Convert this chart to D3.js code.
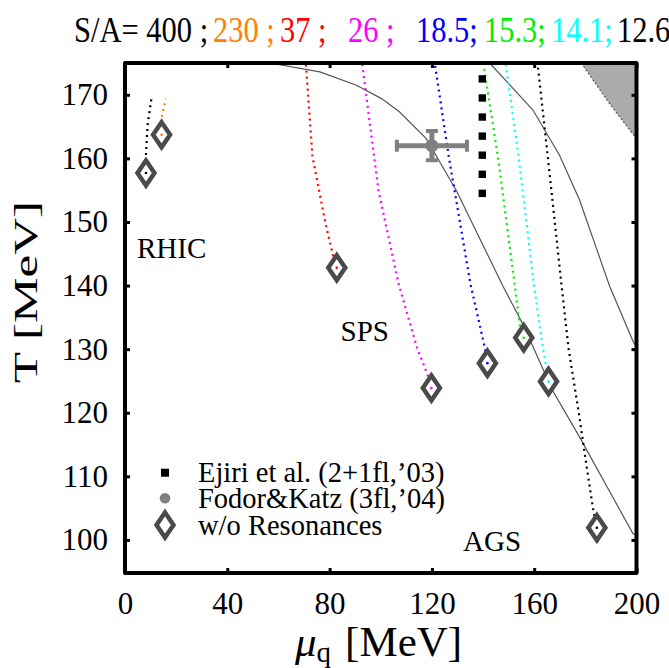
<!DOCTYPE html>
<html><head><meta charset="utf-8">
<script src="https://cdn.jsdelivr.net/npm/d3@7"></script>
<style>
body{margin:0;background:#fff}
text{font-family:"Liberation Serif","Times New Roman",Times,serif;fill:#000}
</style>
</head><body>
<svg id="chart" width="669" height="668"></svg>
<script>
// ---- data -------------------------------------------------------------
const muTicks = [0, 40, 80, 120, 160, 200];
const tTicks = [100, 110, 120, 130, 140, 150, 160, 170];

// entropy per baryon of each isentropic trajectory
const entropyLabels = ["400", "230", "37", "26", "18.5", "15.3", "14.1", "12.6"];
const seriesColors = ["#000000", "#ff8000", "#ff0000", "#ff00ff", "#0000ff", "#00ee00", "#00ffff", "#000000"];

// isentropic trajectories [mu_q, T] (MeV), one per S/A value
const traj400  = [[8.2,157.7],[8.2,160.8],[8.9,165.5],[10.4,169.6]];
const traj230  = [[14.3,163.7],[14.4,166.5],[15.9,169.4]];
const traj37   = [[82.8,142.8],[81.4,144.6],[78.4,149.8],[73.3,160.3],[70.7,175]];
const traj26   = [[119.8,123.9],[118.2,126.1],[114.2,130.2],[106.9,140.4],[99.1,155],[92.7,175]];
const traj18_5 = [[141.7,127.8],[140.7,130.2],[135,140.4],[126.6,160.3],[121.1,175]];
const traj15_3 = [[155.9,131.8],[154.3,133.9],[152.3,140.4],[145.8,160.3],[140.1,175]];
const traj14_1 = [[165.6,124.9],[165.4,125.6],[163.4,130.2],[159.8,140.4],[153.9,160.3],[148.8,175]];
const traj12_6 = [[184.5,101.9],[183.3,104.2],[181.3,109.4],[177.5,119.8],[173.4,130.2],[170.6,140.4],[165.3,160.3],[161.3,175]];
const trajectories = [traj400, traj230, traj37, traj26, traj18_5, traj15_3, traj14_1, traj12_6];

// freeze-out points without resonances [mu_q, T]
const endpointsNoRes = [[8.2,157.7],[14.3,163.7],[82.8,142.8],[119.8,123.9],[141.7,127.8],[155.9,131.8],[165.6,124.9],[184.5,101.9]];

// phase boundaries [mu_q, T]
const boundaryA = [[56.6,175],[76.2,173.6],[90.5,171.5],[100.3,169.4],[107.4,167.3],[117.8,163.1],[129.6,154.9],[147.8,139.9],[155.6,133.9],[167.2,123.5],[177.7,116.2],[198.6,101.0],[200,100.7]];
const boundaryB = [[142.6,175],[159.5,167.6],[169.9,160.5],[177.7,153.5],[189.5,139.9],[198.6,131.3],[200,130.3]];

// excluded (shaded) region, upper right
const excludedEdge = [[178.4,175],[189.5,168.6],[200,163.1]];
const excludedCorner = [[200,175]];

// lattice results
const ejiriMu = [139.7, 139.7, 139.7, 139.7, 139.7, 139.7, 139.7];
const ejiriT  = [172.5, 169.5, 166.5, 163.5, 160.5, 157.5, 154.5];
const fodorKatzMu = [120], fodorKatzT = [162], fodorKatzErrMu = [13.7], fodorKatzErrT = [2.3];

const legendLabels = ["Ejiri et al. (2+1fl,\u201903)", "Fodor&Katz (3fl,\u201904)", "w/o Resonances"];
const regionLabels = [{name:"RHIC", mu:4.7, T:144.3}, {name:"SPS", mu:84.3, T:131.3}, {name:"AGS", mu:132.2, T:98.2}];

// ---- layout -----------------------------------------------------------
const svg = d3.select("#chart");
const L = 125, R = 636.5, T0 = 63, B = 573;
const x = d3.scaleLinear().domain([0, 200]).range([L, R]);
const y = d3.scaleLinear().domain([94.8, 175]).range([B, T0]);

svg.append("defs").append("clipPath").attr("id", "plotclip")
  .append("rect").attr("x", L).attr("y", T0).attr("width", R - L).attr("height", B - T0);
const plot = svg.append("g").attr("clip-path", "url(#plotclip)");

// shaded region
plot.append("path")
  .attr("d", d3.line().x(d => x(d[0])).y(d => y(d[1]))(excludedEdge.concat(excludedCorner)) + "Z")
  .attr("fill", "#ababab");
plot.append("path")
  .attr("d", d3.line().x(d => x(d[0])).y(d => y(d[1]))(excludedEdge))
  .attr("fill", "none").attr("stroke", "#555").attr("stroke-width", 1.2).attr("stroke-dasharray", "2,2");

// phase boundaries
const line = d3.line().x(d => x(d[0])).y(d => y(d[1]));
[boundaryA, boundaryB].forEach(b => {
  plot.append("path").attr("d", line(b)).attr("fill", "none")
    .attr("stroke", "#555").attr("stroke-width", 1.2);
});

// isentropic trajectories
trajectories.forEach((t, i) => {
  plot.append("path").attr("d", line(t)).attr("fill", "none")
    .attr("stroke", seriesColors[i]).attr("stroke-width", 2.2)
    .attr("stroke-dasharray", "2,4");
});

// Ejiri et al. squares
plot.selectAll("rect.ejiri").data(ejiriT).join("rect").attr("class", "ejiri")
  .attr("x", (d, i) => x(ejiriMu[i]) - 3.7).attr("y", d => y(d) - 3.7)
  .attr("width", 7.4).attr("height", 7.4).attr("fill", "#000");

// Fodor & Katz endpoint with error bars
const fk = plot.append("g").attr("fill", "#808080").attr("stroke", "#808080");
fodorKatzMu.forEach((m, i) => {
  const cx = x(m), cy = y(fodorKatzT[i]);
  const x0 = x(m - fodorKatzErrMu[i]), x1 = x(m + fodorKatzErrMu[i]);
  const y0 = y(fodorKatzT[i] + fodorKatzErrT[i]), y1 = y(fodorKatzT[i] - fodorKatzErrT[i]);
  fk.append("line").attr("x1", x0).attr("x2", x1).attr("y1", cy).attr("y2", cy).attr("stroke-width", 5);
  fk.append("line").attr("x1", cx).attr("x2", cx).attr("y1", y0).attr("y2", y1).attr("stroke-width", 5);
  [x0, x1].forEach(xx => fk.append("line").attr("x1", xx).attr("x2", xx).attr("y1", cy - 6).attr("y2", cy + 6).attr("stroke-width", 4));
  [y0, y1].forEach(yy => fk.append("line").attr("x1", cx - 6).attr("x2", cx + 6).attr("y1", yy).attr("y2", yy).attr("stroke-width", 4));
  fk.append("circle").attr("cx", cx).attr("cy", cy).attr("r", 6.5).attr("stroke", "none");
});

// diamonds (w/o resonances)
const diamond = (cx, cy) => `M${cx},${cy - 12.5}L${cx + 8.5},${cy}L${cx},${cy + 12.5}L${cx - 8.5},${cy}Z`;
endpointsNoRes.forEach((p, i) => {
  const cx = x(p[0]), cy = y(p[1]);
  svg.append("path").attr("d", diamond(cx, cy)).attr("fill", "#fff")
    .attr("stroke", "#4a4a4a").attr("stroke-width", 4.5).attr("stroke-linejoin", "miter");
  svg.append("circle").attr("cx", cx).attr("cy", cy).attr("r", 1.3).attr("fill", seriesColors[i]);
});

// ---- axes -------------------------------------------------------------
const tickStyle = g => {
  g.select(".domain").remove();
  g.selectAll(".tick line").attr("stroke", "#000").attr("stroke-width", 3);
  g.selectAll(".tick text").style("font-size", "31px").attr("fill", "#000");
};
svg.append("g").attr("transform", `translate(0,${B})`)
  .call(d3.axisBottom(x).tickValues(muTicks).tickSizeInner(-5).tickSizeOuter(0).tickPadding(19).tickFormat(d3.format("d")))
  .call(tickStyle);
svg.append("g").attr("transform", `translate(0,${T0})`)
  .call(d3.axisTop(x).tickValues(muTicks).tickSizeInner(-5).tickSizeOuter(0).tickFormat(""))
  .call(tickStyle);
svg.append("g").attr("transform", `translate(${L},0)`)
  .call(d3.axisLeft(y).tickValues(tTicks).tickSizeInner(-5).tickSizeOuter(0).tickPadding(17).tickFormat(d3.format("d")))
  .call(tickStyle);
svg.append("g").attr("transform", `translate(${R},0)`)
  .call(d3.axisRight(y).tickValues(tTicks).tickSizeInner(-5).tickSizeOuter(0).tickFormat(""))
  .call(tickStyle);

// frame
svg.append("rect").attr("x", L).attr("y", T0).attr("width", R - L).attr("height", B - T0)
  .attr("fill", "none").attr("stroke", "#000").attr("stroke-width", 4).attr("stroke-linejoin", "round");

// axis titles
const xt = svg.append("text").attr("x", 295).attr("y", 656).style("font-size", "43px");
xt.append("tspan").style("font-style", "italic").text("\u03bc");
xt.append("tspan").attr("dy", 6).style("font-size", "29px").text("q");
xt.append("tspan").attr("dy", -6).attr("dx", 14).text("[MeV]");

svg.append("text").attr("transform", "translate(37,292) rotate(-90) scale(1.55,1)")
  .attr("text-anchor", "middle").style("font-size", "33px").text("T [MeV]");

// region labels
regionLabels.forEach(r => {
  svg.append("text").attr("x", x(r.mu)).attr("y", y(r.T)).style("font-size", "29px").text(r.name);
});

// legend
const legY = [481.7, 508.3, 535];
legendLabels.forEach((t, i) => {
  svg.append("text").attr("x", 198).attr("y", legY[i]).style("font-size", "28.5px").text(t);
});
svg.append("rect").attr("x", 161).attr("y", legY[0] - 13).attr("width", 8).attr("height", 8).attr("fill", "#000");
svg.append("circle").attr("cx", 165).attr("cy", legY[1] - 10).attr("r", 5.3).attr("fill", "#808080");
svg.append("path").attr("d", diamond(165, legY[2] - 10)).attr("fill", "#fff")
  .attr("stroke", "#4a4a4a").attr("stroke-width", 4.5);

// title with entropy values
const titleX = [74, 213, 280, 348, 416, 484, 551, 617];
const title = svg.append("text").attr("transform", "translate(0,42) scale(1,1.15)").style("font-size", "30.5px");
entropyLabels.forEach((s, i) => {
  const txt = (i === 0 ? "S/A= " : "") + s + (i < 4 ? " ;" : (i < 7 ? ";" : ""));
  title.append("tspan").attr("x", titleX[i]).attr("fill", seriesColors[i]).text(txt);
});
</script>
</body></html>
